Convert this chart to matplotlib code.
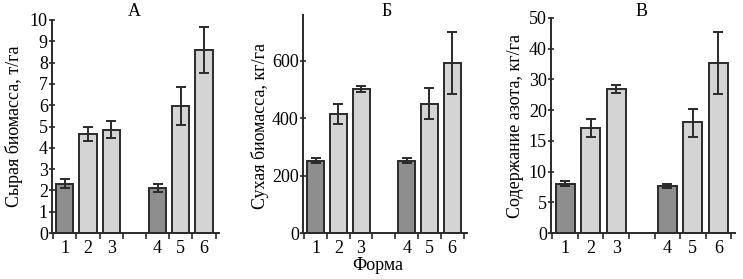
import numpy as np
import matplotlib
matplotlib.use('Agg')
import matplotlib.pyplot as plt

plt.rcParams['font.family'] = ['Liberation Serif', 'DejaVu Serif']

# data
forms = ['1', '2', '3', '4', '5', '6']
x_pos = [0, 1, 2, 4, 5, 6]
dark = [True, False, False, True, False, False]

fresh = [2.32, 4.66, 4.84, 2.12, 5.95, 8.6]        # А, т/га
fresh_err = [0.2, 0.34, 0.4, 0.2, 0.9, 1.08]
dry = [252, 415, 502, 252, 450, 592]               # Б, кг/га
dry_err = [8, 36, 12, 8, 54, 108]
nitro = [8.0, 17.1, 26.9, 7.7, 18.0, 35.4]          # В, кг/га
nitro_err = [0.4, 1.4, 1.3, 0.3, 2.4, 10.0]

# В has a non-uniform axis: labels evenly spaced
nitro_ticks = [0, 5, 10, 15, 20, 30, 40, 50]
tick_pos = np.arange(len(nitro_ticks))

W, H = 743, 279
fig = plt.figure(figsize=(W / 100, H / 100), dpi=100)

def box(l, r, t, b=233):
    return [l / W, 1 - b / H, (r - l) / W, (b - t) / H]

panels = [
    dict(rect=box(52, 219, 20), vals=fresh, err=fresh_err, title='А', tx=134,
         ylabel='Сырая биомасса, т/га', ylim=(0, 10), yticks=np.arange(0, 11), lx=14),
    dict(rect=box(303, 467, 15), vals=dry, err=dry_err, title='Б', tx=387,
         ylabel='Сухая биомасса, кг/га', ylim=(0, 760), yticks=[0, 200, 400, 600], lx=260),
    dict(rect=box(551, 735, 18), vals=nitro, err=nitro_err, title='В', tx=642,
         ylabel='Содержание азота, кг/га', ylim=(0, 50), yticks=nitro_ticks, lx=515),
]

edge = '#2a2a2a'
for i, p in enumerate(panels):
    ax = fig.add_axes(p['rect'])
    if i == 2:
        ax.set_yscale('function', functions=(
            lambda v: np.interp(v, nitro_ticks, tick_pos),
            lambda v: np.interp(v, tick_pos, nitro_ticks)))
    colors = ['#8e8e8e' if d else '#d4d4d4' for d in dark]
    ax.bar(x_pos, p['vals'], width=0.74, color=colors, edgecolor=edge, linewidth=1.4,
           yerr=p['err'], capsize=3.5,
           error_kw=dict(ecolor=edge, elinewidth=1.4, capthick=1.4))
    ax.set_xlim(-0.55, 6.65)
    ax.set_ylim(*p['ylim'])
    ax.set_yticks(p['yticks'])
    ax.set_yticklabels([str(t) for t in p['yticks']])
    ax.set_xticks(x_pos)
    ax.set_xticklabels(forms)
    ax.set_xticks(np.arange(-0.5, 7, 1), minor=True)
    ax.tick_params(axis='x', which='major', length=0, labelsize=13, pad=5)
    ax.tick_params(axis='x', which='minor', length=4, width=1.2, color=edge, direction='out')
    ax.tick_params(axis='y', length=4, width=1.2, color=edge, direction='inout', labelsize=13, pad=1)
    for s in ['top', 'right']:
        ax.spines[s].set_visible(False)
    for s in ['left', 'bottom']:
        ax.spines[s].set_color(edge)
        ax.spines[s].set_linewidth(1.4)
    fig.text(p['tx'] / W, 1 - 12 / H, p['title'], ha='center', va='center', fontsize=13)
    fig.text(p['lx'] / W, 1 - 126 / H, p['ylabel'], ha='center', va='center',
             rotation=90, fontsize=13)

fig.text(378 / W, 1 - 266 / H, 'Форма', ha='center', va='center', fontsize=13)

fig.savefig('out.png', dpi=100)
